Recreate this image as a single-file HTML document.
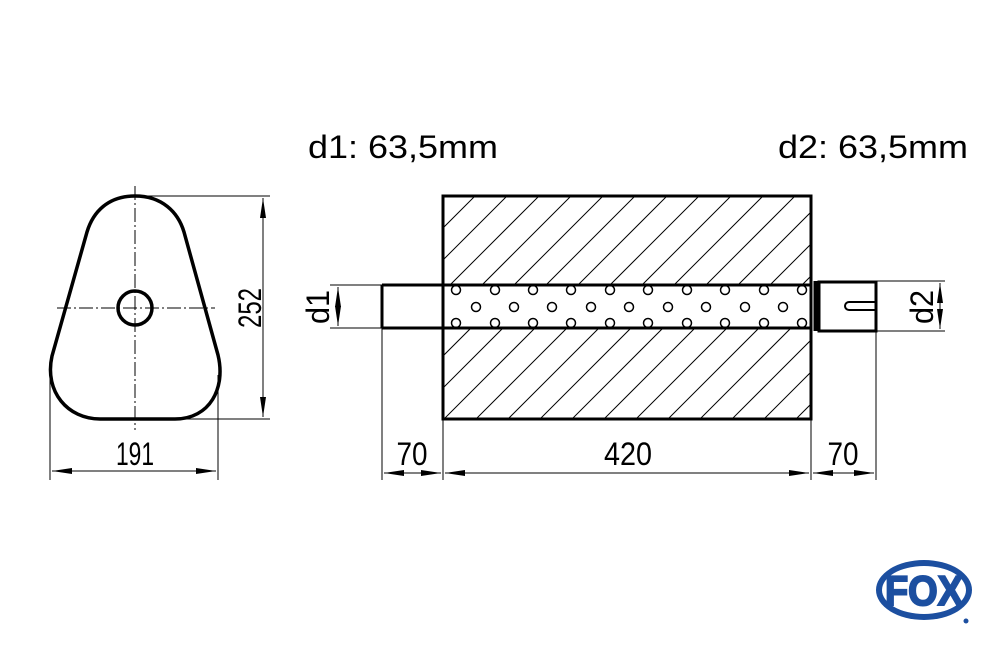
<!DOCTYPE html>
<html><head><style>body{margin:0;background:#fff}svg{display:block}</style></head><body>
<svg width="1000" height="645" viewBox="0 0 1000 645" xmlns="http://www.w3.org/2000/svg" font-family="Liberation Sans, sans-serif">
<defs>
<clipPath id="c1"><rect x="443" y="196" width="368" height="89"/><rect x="443" y="328" width="368" height="91"/></clipPath>
<marker id="a" viewBox="0 0 20 8" refX="20" refY="4" markerWidth="20" markerHeight="8" orient="auto-start-reverse" markerUnits="userSpaceOnUse"><path d="M0 1L20 4L0 7z" fill="#000"/></marker>
</defs>
<text x="308" y="158" font-size="32" textLength="190" lengthAdjust="spacingAndGlyphs">d1: 63,5mm</text>
<text x="778" y="158" font-size="32" textLength="190" lengthAdjust="spacingAndGlyphs">d2: 63,5mm</text>
<g stroke="#000" fill="none">
<path d="M135 196 C162 196 178 212 184 232 L218 355 C226 388 210 419 175 419 L100 419 C68 419 44 392 52 356 L87 232 C93 212 108 196 135 196 Z" stroke-width="3.5"/>
<circle cx="135" cy="308" r="17" stroke-width="3.5"/>
<path d="M135 186V430M57 308H215" stroke-width="1" stroke-dasharray="14 3 2 3"/>
<path d="M135 196H270M180 419H270M50 375V480M218 375V480M382 328V480M443 419V480M811 419V480M876 331V480M330 285H382M330 328H382M876 281H945M876 331H945" stroke-width="1"/>
<g stroke-width="1" marker-start="url(#a)" marker-end="url(#a)">
<path d="M263 198V417"/><path d="M52 471H216"/><path d="M384 473H441"/><path d="M445 473H809"/><path d="M813 473H874"/><path d="M338 287V326"/><path d="M940 283V329"/>
</g>
<g clip-path="url(#c1)" stroke-width="1">
<path d="M413 450L683 180M445 450L715 180M477 450L747 180M509 450L779 180M541 450L811 180M573 450L843 180M605 450L875 180M637 450L907 180M669 450L939 180M701 450L971 180M733 450L1003 180M765 450L1035 180M797 450L1067 180M381 450L651 180M349 450L619 180M317 450L587 180M285 450L555 180M253 450L523 180M221 450L491 180M189 450L459 180"/>
</g>
<rect x="443" y="196" width="368" height="223" stroke-width="3"/>
<path d="M382 285H811M382 328H811M382 285V328" stroke-width="3"/>
<path d="M816 281V331" stroke-width="5"/>
<rect x="819" y="282" width="57" height="49" stroke-width="3"/>
<path d="M876 302H849A4 4 0 0 0 849 310H876" stroke-width="2"/>
<g stroke-width="1.5">
<circle cx="456" cy="290" r="4.5"/><circle cx="495" cy="290" r="4.5"/><circle cx="533" cy="290" r="4.5"/><circle cx="571" cy="290" r="4.5"/><circle cx="610" cy="290" r="4.5"/><circle cx="648" cy="290" r="4.5"/><circle cx="687" cy="290" r="4.5"/><circle cx="725" cy="290" r="4.5"/><circle cx="764" cy="290" r="4.5"/><circle cx="802" cy="290" r="4.5"/>
<circle cx="476" cy="307" r="4.5"/><circle cx="514" cy="307" r="4.5"/><circle cx="552" cy="307" r="4.5"/><circle cx="591" cy="307" r="4.5"/><circle cx="629" cy="307" r="4.5"/><circle cx="668" cy="307" r="4.5"/><circle cx="706" cy="307" r="4.5"/><circle cx="745" cy="307" r="4.5"/><circle cx="783" cy="307" r="4.5"/>
<circle cx="456" cy="323" r="4.5"/><circle cx="495" cy="323" r="4.5"/><circle cx="533" cy="323" r="4.5"/><circle cx="571" cy="323" r="4.5"/><circle cx="610" cy="323" r="4.5"/><circle cx="648" cy="323" r="4.5"/><circle cx="687" cy="323" r="4.5"/><circle cx="725" cy="323" r="4.5"/><circle cx="764" cy="323" r="4.5"/><circle cx="802" cy="323" r="4.5"/>
</g>
</g>
<g font-size="32" text-anchor="middle">
<text x="135" y="465" textLength="38" lengthAdjust="spacingAndGlyphs">191</text>
<text transform="translate(261 308) rotate(-90)" textLength="40" lengthAdjust="spacingAndGlyphs">252</text>
<text x="412" y="465" textLength="31" lengthAdjust="spacingAndGlyphs">70</text>
<text x="628" y="465" textLength="48" lengthAdjust="spacingAndGlyphs">420</text>
<text x="843" y="465" textLength="31" lengthAdjust="spacingAndGlyphs">70</text>
<text transform="translate(329 307) rotate(-90)" textLength="34" lengthAdjust="spacingAndGlyphs">d1</text>
<text transform="translate(933 307) rotate(-90)" textLength="34" lengthAdjust="spacingAndGlyphs">d2</text>
</g>
<g>
<ellipse cx="924" cy="590" rx="48" ry="30" fill="#1c4fa0"/>
<ellipse cx="924" cy="590" rx="42" ry="24" fill="#fff"/>
<text x="924" y="605" font-size="42" font-weight="bold" fill="#1c4fa0" text-anchor="middle" stroke="#1c4fa0" stroke-width="2" textLength="78" lengthAdjust="spacingAndGlyphs">FOX</text>
<circle cx="966" cy="621" r="2.5" fill="#1c4fa0"/>
</g>
</svg>
</body></html>
